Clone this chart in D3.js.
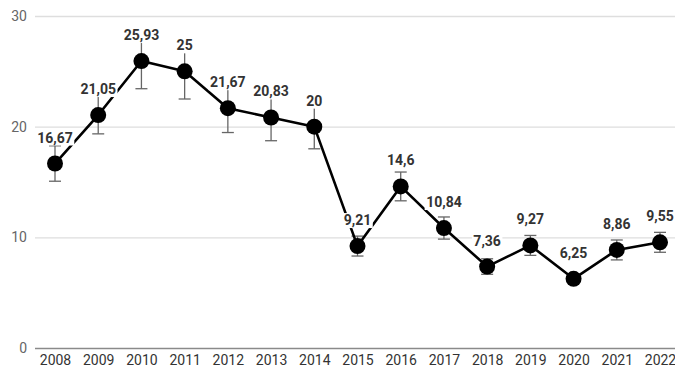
<!DOCTYPE html>
<html>
<head>
<meta charset="utf-8">
<script src="https://cdn.jsdelivr.net/npm/d3@7"></script>
<style>
  html, body { margin: 0; padding: 0; background: #fff; }
  svg { display: block; }
</style>
</head>
<body>
<svg id="chart" width="675" height="371"></svg>
<script>
// Yearly values with their error margins
const years = ["2008","2009","2010","2011","2012","2013","2014","2015","2016","2017","2018","2019","2020","2021","2022"];
const values = [16.67, 21.05, 25.93, 25, 21.67, 20.83, 20, 9.21, 14.6, 10.84, 7.36, 9.27, 6.25, 8.86, 9.55];
const errors = [1.6, 1.7, 2.5, 2.5, 2.2, 2.1, 2.0, 0.9, 1.3, 1.0, 0.7, 0.9, 0.3, 0.9, 0.9];
const yTicks = [0, 10, 20, 30];

const svg = d3.select("#chart");

const x = d3.scalePoint().domain(years).range([55, 660]);
const y = d3.scaleLinear().domain([0, 30]).range([348, 16]);

const fmt = v => String(v).replace(".", ",");
const font = "Roboto, 'Liberation Sans', sans-serif";

// Horizontal grid and y labels
const yAxis = d3.axisLeft(y).tickValues(yTicks).tickSize(-(675 - 35)).tickPadding(8);
const gy = svg.append("g").attr("transform", "translate(35,0)").call(yAxis);
gy.select(".domain").remove();
gy.selectAll(".tick line")
  .attr("stroke", d => d === 0 ? "#8a8a8a" : "#dedede")
  .attr("stroke-width", d => d === 0 ? 1.6 : 1.4);
gy.selectAll(".tick text")
  .attr("fill", "#666")
  .attr("font-family", font)
  .attr("font-size", 14);

// Year labels along the bottom
const xAxis = d3.axisBottom(x).tickSize(0).tickPadding(7);
const gx = svg.append("g").attr("transform", "translate(0,348)").call(xAxis);
gx.select(".domain").remove();
gx.selectAll(".tick text")
  .attr("fill", "#333")
  .attr("font-family", font)
  .attr("font-size", 14);

const data = years.map((yr, i) => ({ yr, v: values[i], e: errors[i] }));

// Error bars
const eb = svg.append("g").attr("stroke", "#666").attr("stroke-width", 1.3);
data.forEach(d => {
  const cx = x(d.yr);
  eb.append("line").attr("x1", cx).attr("x2", cx).attr("y1", y(d.v + d.e)).attr("y2", y(d.v - d.e));
  eb.append("line").attr("x1", cx - 6).attr("x2", cx + 6).attr("y1", y(d.v + d.e)).attr("y2", y(d.v + d.e));
  eb.append("line").attr("x1", cx - 6).attr("x2", cx + 6).attr("y1", y(d.v - d.e)).attr("y2", y(d.v - d.e));
});

// Connecting line
const line = d3.line().x(d => x(d.yr)).y(d => y(d.v));
svg.append("path")
  .datum(data)
  .attr("d", line)
  .attr("fill", "none")
  .attr("stroke", "#000")
  .attr("stroke-width", 2.6)
  .attr("stroke-linejoin", "round");

// Markers
svg.append("g").selectAll("circle")
  .data(data)
  .join("circle")
  .attr("cx", d => x(d.yr))
  .attr("cy", d => y(d.v))
  .attr("r", 8)
  .attr("fill", "#000");

// Value labels on white plates so they sit above the line
const labels = svg.append("g").selectAll("g")
  .data(data)
  .join("g");

labels.append("text")
  .attr("x", d => x(d.yr))
  .attr("y", d => y(d.v) - 21)
  .attr("text-anchor", "middle")
  .attr("font-family", font)
  .attr("font-weight", "bold")
  .attr("font-size", 14)
  .attr("fill", "#333")
  .text(d => fmt(d.v));

labels.each(function () {
  const g = d3.select(this);
  const bb = g.select("text").node().getBBox();
  g.insert("rect", "text")
    .attr("x", bb.x - 1.5)
    .attr("y", bb.y + 1)
    .attr("width", bb.width + 3)
    .attr("height", bb.height - 1)
    .attr("fill", "#fff");
});
</script>
</body>
</html>
